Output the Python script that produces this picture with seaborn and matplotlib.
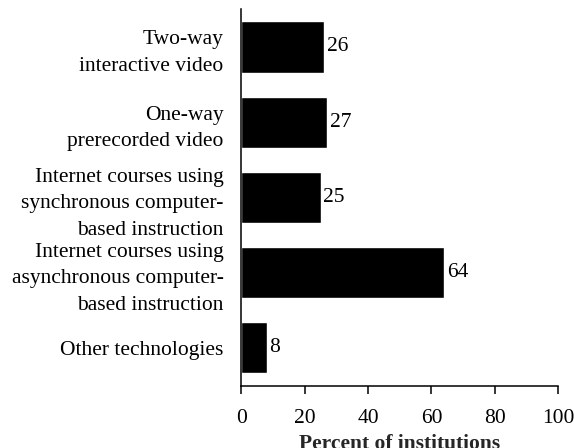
import matplotlib
matplotlib.use("Agg")
import matplotlib.pyplot as plt
import seaborn as sns

technologies = [
    "Two-way\ninteractive video",
    "One-way\nprerecorded video",
    "Internet courses using\nsynchronous computer-\nbased instruction",
    "Internet courses using\nasynchronous computer-\nbased instruction",
    "Other technologies",
]
percents = [26, 27, 25, 64, 8]
x_ticks = [0, 20, 40, 60, 80, 100]

sns.set_style("ticks")
plt.rcParams["font.family"] = ["Liberation Serif", "DejaVu Serif"]
plt.rcParams["font.size"] = 15.5

fig = plt.figure(figsize=(5.74, 4.48), dpi=100)
ax = fig.add_axes([0.4207, 0.1395, 0.9721 - 0.4207, 0.9792 - 0.1395])

sns.barplot(x=percents, y=technologies, color="black", orient="h",
            width=0.68, saturation=1, ax=ax)
for c in ax.containers:
    ax.bar_label(c, padding=2, fontsize=15.5, color="black")

ax.set_xlim(0, 100)
ax.set_ylim(4.5, -0.5)
ax.set_xticks(x_ticks)
ax.set_xlabel("Percent of institutions", fontweight="bold", fontsize=15.5, labelpad=4)
ax.set_ylabel("")

sns.despine(ax=ax)
for side in ("left", "bottom"):
    ax.spines[side].set_linewidth(1.1)
    ax.spines[side].set_color("black")
ax.tick_params(axis="x", length=5.5, width=1.1, pad=11.5, colors="black", labelsize=15.5)
ax.tick_params(axis="y", length=0, pad=13, colors="black", labelsize=15.5)
for lab in ax.get_yticklabels():
    lab.set_linespacing(1.55)
    lab.set_horizontalalignment("right")
    lab.set_multialignment("right")

fig.savefig("out.png", dpi=100)
